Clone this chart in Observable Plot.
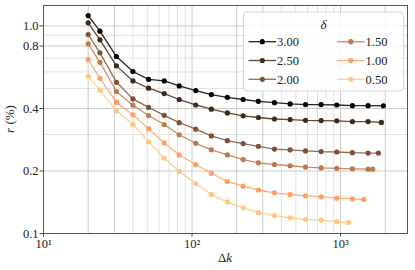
<!DOCTYPE html>
<html><head><meta charset="utf-8">
<script src="https://cdn.jsdelivr.net/npm/d3@7"></script>
<script src="https://cdn.jsdelivr.net/npm/@observablehq/plot@0.6"></script>
<style>
body{margin:0;background:#fff;}
#chart{position:relative;width:415px;height:270px;}
#chart svg, #chart svg text{font-family:"Liberation Serif","DejaVu Serif",serif !important;}
</style>
</head><body><div id="chart"></div>
<script>
// ---- data ----
const deltas = ["3.00", "2.50", "2.00", "1.50", "1.00", "0.50"];
const dk = [20, 24, 31, 40, 51, 65, 82, 106, 135, 173, 221, 280, 359, 458, 581, 741, 944, 1203, 1534];
const dkLast = [1943, 1884, 1800, 1648, 1435, 1130];
const r300 = [1.122, 0.943, 0.712, 0.603, 0.553, 0.543, 0.514, 0.488, 0.467, 0.453, 0.442, 0.433, 0.427, 0.421, 0.418, 0.418, 0.416, 0.413, 0.413, 0.412];
const r250 = [1.035, 0.857, 0.642, 0.543, 0.501, 0.472, 0.442, 0.416, 0.397, 0.381, 0.369, 0.362, 0.356, 0.354, 0.351, 0.350, 0.349, 0.346, 0.346, 0.343];
const r200 = [0.909, 0.742, 0.535, 0.445, 0.405, 0.371, 0.342, 0.318, 0.295, 0.280, 0.271, 0.263, 0.255, 0.253, 0.250, 0.248, 0.247, 0.245, 0.244, 0.244];
const r150 = [0.820, 0.668, 0.483, 0.415, 0.370, 0.335, 0.299, 0.272, 0.253, 0.239, 0.227, 0.219, 0.215, 0.212, 0.209, 0.207, 0.206, 0.205, 0.204, 0.204];
const r100 = [0.688, 0.559, 0.428, 0.373, 0.320, 0.273, 0.239, 0.215, 0.195, 0.178, 0.169, 0.162, 0.157, 0.154, 0.152, 0.150, 0.148, 0.147, 0.146];
const r050 = [0.572, 0.490, 0.390, 0.335, 0.277, 0.231, 0.199, 0.174, 0.154, 0.142, 0.133, 0.126, 0.122, 0.119, 0.117, 0.116, 0.114, 0.113];
const xTicks = [10, 100, 1000];
const yTicks = [0.1, 0.2, 0.4, 0.8, 1.0];
const xGridMajor = [20, 30, 100, 200, 300, 1000, 2000];
const xGridMinor = [40, 50, 60, 70, 80, 90, 400, 500, 600, 700, 800, 900];
const yGridMajor = [0.2, 0.4, 0.8, 1.0];
const yGridMinor = [0.3, 0.5, 0.6, 0.7, 0.9];

// ---- styles ----
const colors = ["#000000", "#402819", "#805033", "#bf784c", "#ff9f65", "#ffc77f"];
const FONT = "'Liberation Serif', 'DejaVu Serif', serif";
const SUP = {"1": "\u00B9", "2": "\u00B2", "3": "\u00B3"};
const xFmt = d => "10" + SUP[String(Math.round(Math.log10(d)))];
const yFmt = d3.format(".1f");

const series = [r300, r250, r200, r150, r100, r050];
const rows = [];
series.forEach((vals, i) => vals.forEach((v, j) => {
  rows.push({delta: deltas[i], dk: j < vals.length - 1 ? dk[j] : dkLast[i], r: v});
}));

const plot = Plot.plot({
  width: 415, height: 270,
  marginLeft: 43, marginRight: 8, marginTop: 5, marginBottom: 37,
  style: {fontFamily: FONT, fontSize: "12.5px", background: "#fff", color: "#222"},
  x: {type: "log", domain: [10, 2826]},
  y: {type: "log", domain: [0.1, 1.254]},
  color: {domain: deltas, range: colors, type: "ordinal"},
  marks: [
    Plot.gridX(xGridMinor, {stroke: "#e2e2e2", strokeOpacity: 1, strokeWidth: 1}),
    Plot.gridY(yGridMinor, {stroke: "#e2e2e2", strokeOpacity: 1, strokeWidth: 1}),
    Plot.gridX(xGridMajor, {stroke: "#cbcbcb", strokeOpacity: 1, strokeWidth: 1}),
    Plot.gridY(yGridMajor, {stroke: "#cbcbcb", strokeOpacity: 1, strokeWidth: 1}),
    Plot.line(rows, {x: "dk", y: "r", z: "delta", stroke: "delta", strokeWidth: 1.3, strokeOpacity: 0.85}),
    Plot.dot(rows, {x: "dk", y: "r", fill: "delta", r: 2.6}),
    Plot.axisX({ticks: xTicks, tickFormat: xFmt, tickSize: 3.5, tickPadding: 2, label: null, fontSize: 12.5, stroke: "#444"}),
    Plot.axisY({ticks: yTicks, tickFormat: yFmt, tickSize: 3.5, tickPadding: 1.5, label: null, fontSize: 12.5, stroke: "#444"}),
    Plot.frame({stroke: "#555", strokeWidth: 1})
  ]
});
document.getElementById("chart").appendChild(plot);

// ---- axis labels and legend (layout drawn onto the Plot svg) ----
const svg = d3.select(plot);
const xl = svg.append("text").attr("x", 225).attr("y", 261.5).attr("text-anchor", "middle")
  .attr("font-size", 13).attr("fill", "#222");
xl.append("tspan").text("\u0394");
xl.append("tspan").attr("font-style", "italic").text("k");

const yl = svg.append("text").attr("transform", "translate(14,119) rotate(-90)").attr("text-anchor", "middle")
  .attr("font-size", 13).attr("fill", "#222");
yl.append("tspan").attr("font-style", "italic").text("r");
yl.append("tspan").text(" (%)");

const lg = svg.append("g");
lg.append("rect").attr("x", 243.5).attr("y", 12).attr("width", 160).attr("height", 79).attr("rx", 3)
  .attr("fill", "#fff").attr("fill-opacity", 0.85).attr("stroke", "#d6d6d6").attr("stroke-width", 1);
lg.append("text").attr("x", 323.5).attr("y", 29).attr("text-anchor", "middle")
  .attr("font-size", 13).attr("font-style", "italic").attr("fill", "#222").text("\u03B4");
deltas.forEach((d, i) => {
  const col = Math.floor(i / 3), row = i % 3;
  const x0 = 248.5 + col * 88.5, y0 = 41.7 + row * 18.8;
  lg.append("line").attr("x1", x0).attr("x2", x0 + 27.5).attr("y1", y0).attr("y2", y0)
    .attr("stroke", colors[i]).attr("stroke-width", 1.3).attr("stroke-opacity", 0.85);
  lg.append("circle").attr("cx", x0 + 13.8).attr("cy", y0).attr("r", 2.6).attr("fill", colors[i]);
  lg.append("text").attr("x", x0 + 39.5).attr("y", y0 + 4.2).attr("font-size", 12.5)
    .attr("fill", "#222").text(d);
});
</script>
</body></html>
